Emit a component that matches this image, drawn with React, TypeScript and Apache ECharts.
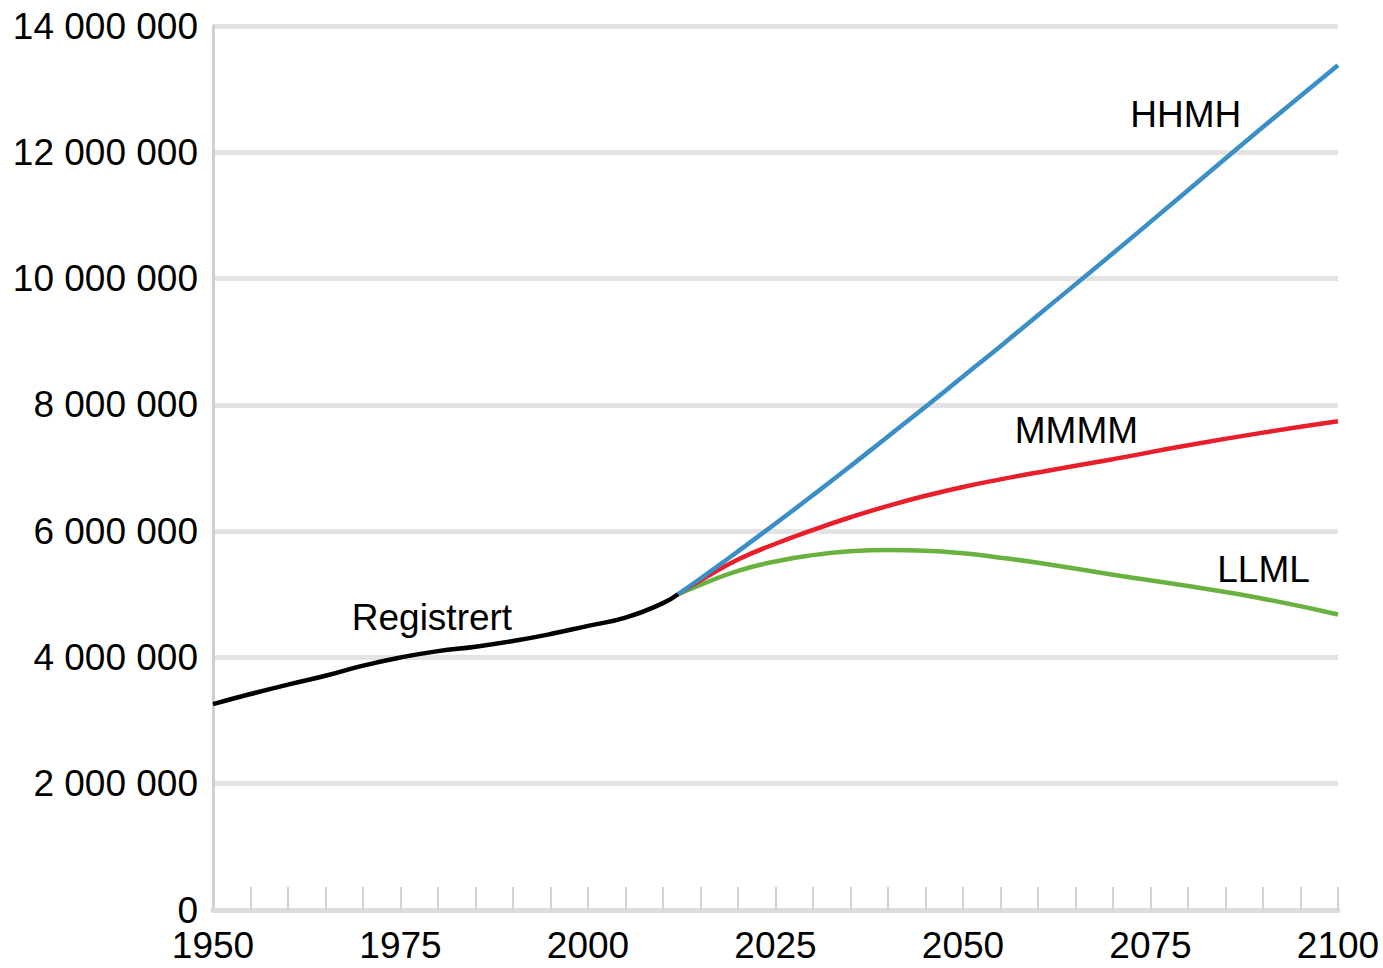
import React, { useEffect, useRef } from "react";
import * as echarts from "echarts";

const registeredYears = [1950, 1955, 1960, 1965, 1970, 1975, 1980, 1985, 1990, 1995, 2000, 2005, 2010, 2012];
const registeredValues = [3.26, 3.42, 3.57, 3.71, 3.87, 4.0, 4.1, 4.17, 4.26, 4.37, 4.5, 4.63, 4.86, 5.0];

const projYears = [2012, 2015, 2020, 2025, 2030, 2035, 2040, 2045, 2050, 2055, 2060, 2070, 2080, 2090, 2100];
const hhmhValues = [5.0, 5.25, 5.68, 6.12, 6.57, 7.03, 7.5, 7.97, 8.45, 8.93, 9.42, 10.4, 11.4, 12.4, 13.38];
const mmmmValues = [5.0, 5.22, 5.55, 5.8, 6.02, 6.22, 6.4, 6.56, 6.7, 6.82, 6.93, 7.14, 7.36, 7.56, 7.74];
const llmlValues = [5.0, 5.15, 5.37, 5.52, 5.62, 5.68, 5.7, 5.69, 5.65, 5.58, 5.5, 5.31, 5.13, 4.93, 4.68];

const yTicks = [0, 2000000, 4000000, 6000000, 8000000, 10000000, 12000000, 14000000];
const xLabelYears = [1950, 1975, 2000, 2025, 2050, 2075, 2100];

const seriesNames = ["Registrert", "HHMH", "MMMM", "LLML"];
const seriesColors = ["#000000", "#3a8fc6", "#e81e2a", "#69b23f"];
// annotation anchors in data units (year, millions)
const labelAnchors: [number, number][] = [
  [1968.5, 4.64],
  [2072.3, 12.6],
  [2056.9, 7.6],
  [2083.9, 5.4],
];

const FONT = "'Liberation Sans', Arial, sans-serif";

function fmt(v: number) {
  return String(Math.round(v)).replace(/\B(?=(\d{3})+(?!\d))/g, " ");
}

export default function App() {
  const ref = useRef<HTMLDivElement>(null);
  useEffect(() => {
    document.body.style.margin = "0";
    const chart = echarts.init(ref.current!, null, { renderer: "svg" });
    const toPairs = (xs: number[], vs: number[]) => xs.map((x, i) => [x, vs[i] * 1e6]);
    const datasets = [
      toPairs(registeredYears, registeredValues),
      toPairs(projYears, hhmhValues),
      toPairs(projYears, mmmmValues),
      toPairs(projYears, llmlValues),
    ];
    chart.setOption({
      animation: false,
      backgroundColor: "#ffffff",
      grid: { left: 213, right: 45, top: 26, bottom: 58, containLabel: false },
      xAxis: {
        type: "value",
        min: 1950,
        max: 2100,
        interval: 5,
        axisLine: { show: true, lineStyle: { color: "#dcdcdc", width: 5 } },
        axisTick: { show: true, inside: true, length: 23, lineStyle: { color: "#d2d2d2", width: 2 } },
        splitLine: { show: false },
        axisLabel: {
          margin: 20,
          color: "#000",
          fontSize: 37,
          lineHeight: 30,
          fontFamily: FONT,
          formatter: (v: number) => (xLabelYears.includes(v) ? String(v) : ""),
        },
      },
      yAxis: {
        type: "value",
        min: yTicks[0],
        max: yTicks[yTicks.length - 1],
        interval: 2000000,
        axisLine: { show: true, lineStyle: { color: "#cfcfcf", width: 3 } },
        axisTick: { show: false },
        splitLine: { show: true, lineStyle: { color: "#e3e3e3", width: 5 } },
        axisLabel: {
          margin: 15,
          color: "#000",
          fontSize: 37,
          lineHeight: 28,
          fontFamily: FONT,
          formatter: (v: number) => fmt(v),
        },
      },
      series: datasets.map((d, i) => ({
        name: seriesNames[i],
        type: "line",
        data: d,
        smooth: true,
        showSymbol: false,
        z: i === 0 ? 5 : 4 - i,
        lineStyle: { color: seriesColors[i], width: 4.5 },
      })),
    });
    const texts = labelAnchors.map((a, i) => {
      const p = chart.convertToPixel({ gridIndex: 0 }, [a[0], a[1] * 1e6]) as number[];
      return {
        type: "text",
        x: p[0],
        y: p[1],
        style: {
          text: seriesNames[i],
          fill: "#000",
          fontSize: 37,
          fontFamily: FONT,
          align: "left",
          verticalAlign: "middle",
        },
      };
    });
    chart.setOption({ graphic: texts });
    return () => chart.dispose();
  }, []);
  return <div ref={ref} style={{ width: 1383, height: 968, position: "absolute", left: 0, top: 0 }} />;
}
